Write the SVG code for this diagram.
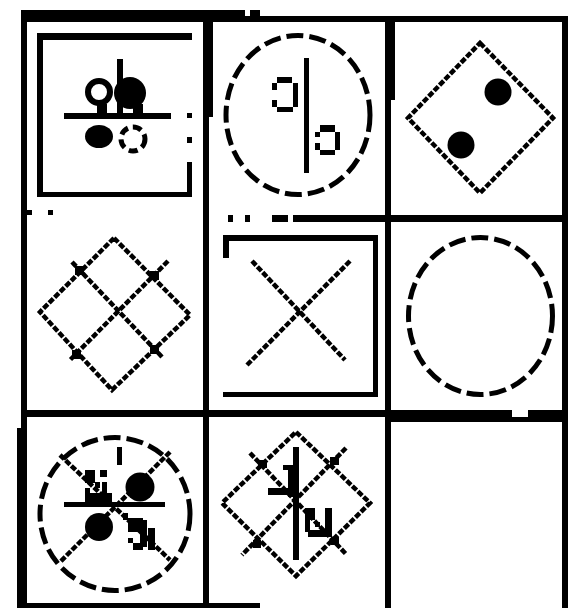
<svg xmlns="http://www.w3.org/2000/svg" width="568" height="608" viewBox="0 0 568 608">
<style>
 .k{fill:#000}
 .dia{stroke:#000;stroke-width:4.5;fill:none;stroke-dasharray:6 1.8}
 .cir{stroke:#000;stroke-width:5;fill:none;stroke-dasharray:17 6}
</style>
<rect width="568" height="608" fill="#fff"/>
<g id="grid" class="k">
 <rect x="21" y="10" width="224" height="12"/>
 <rect x="245" y="16" width="323" height="6"/>
 <rect x="250" y="10" width="10" height="6"/>
 <rect x="21" y="10" width="6" height="598"/>
 <rect x="17" y="428" width="10" height="180"/>
 <rect x="17" y="603" width="243" height="5"/>
 <rect x="562" y="16" width="6" height="592"/>
 <rect x="203" y="17" width="6" height="591"/>
 <rect x="203" y="17" width="10" height="100"/>
 <rect x="385" y="17" width="6" height="591"/>
 <rect x="385" y="17" width="10" height="83"/>
 <rect x="293" y="215" width="275" height="7"/>
 <rect x="272" y="215" width="16" height="7"/>
 <rect x="245" y="215" width="5" height="7"/>
 <rect x="228" y="215" width="5" height="7"/>
 <rect x="27" y="210" width="5" height="5"/>
 <rect x="48" y="210" width="5" height="5"/>
 <rect x="21" y="410" width="491" height="7"/>
 <rect x="528" y="410" width="40" height="7"/>
 <rect x="385" y="417" width="183" height="5"/>
</g>
<g id="cell1">
 <g class="k">
  <rect x="37" y="33" width="155" height="7"/>
  <rect x="37" y="33" width="6" height="164"/>
  <rect x="37" y="192" width="155" height="5"/>
  <rect x="187" y="162" width="5" height="35"/>
  <rect x="187" y="113" width="5" height="5"/>
  <rect x="187" y="137" width="5" height="6"/>
  <rect x="117" y="59" width="6" height="56"/>
  <rect x="64" y="113" width="107" height="6"/>
  <circle cx="130" cy="93" r="16"/>
  <rect x="97" y="104" width="10" height="10"/>
  <rect x="133" y="104" width="10" height="10"/>
  <ellipse cx="99" cy="136.5" rx="14" ry="11.5"/>
 </g>
 <circle cx="99" cy="92" r="11" fill="none" stroke="#000" stroke-width="6"/>
 <circle cx="133" cy="139" r="12" fill="none" stroke="#000" stroke-width="5" stroke-dasharray="9 5"/>
</g>
<g id="cell2">
 <ellipse class="cir" cx="298" cy="115" rx="72" ry="79.5"/>
 <g class="k">
  <rect x="304" y="58" width="5" height="115"/>
  <rect x="277" y="77" width="15" height="6"/>
  <rect x="293" y="83" width="5" height="24"/>
  <rect x="277" y="107" width="16" height="5"/>
  <rect x="272" y="83" width="5" height="7"/>
  <rect x="272" y="100" width="5" height="7"/>
  <rect x="320" y="125" width="15" height="7"/>
  <rect x="335" y="132" width="5" height="18"/>
  <rect x="320" y="150" width="15" height="5"/>
  <rect x="315" y="132" width="5" height="5"/>
  <rect x="315" y="143" width="5" height="7"/>
 </g>
</g>
<g id="cell3">
 <polygon class="dia" points="480,43 553,118 480,193 408,118"/>
 <circle class="k" cx="498" cy="92" r="13.5"/>
 <circle class="k" cx="461" cy="145" r="13.5"/>
</g>
<g id="cell4">
 <polygon class="dia" points="114,238 190,315 112,390 40,312"/>
 <line class="dia" x1="72" y1="262" x2="163" y2="358"/>
 <line class="dia" x1="168" y1="261" x2="70" y2="360"/>
 <g class="k">
  <rect x="75" y="266" width="9" height="9"/>
  <rect x="150" y="271" width="9" height="9"/>
  <rect x="72" y="350" width="9" height="9"/>
  <rect x="150" y="345" width="9" height="9"/>
 </g>
</g>
<g id="cell5">
 <g class="k">
  <rect x="223" y="235" width="155" height="6"/>
  <rect x="223" y="235" width="6" height="23"/>
  <rect x="373" y="235" width="5" height="162"/>
  <rect x="223" y="392" width="155" height="5"/>
 </g>
 <line class="dia" x1="252" y1="261" x2="345" y2="360"/>
 <line class="dia" x1="350" y1="261" x2="247" y2="365"/>
</g>
<g id="cell6">
 <ellipse class="cir" cx="480.5" cy="316" rx="72" ry="78.5"/>
</g>
<g id="cell7">
 <ellipse class="cir" cx="115" cy="514" rx="75" ry="76.5"/>
 <line class="dia" x1="60" y1="455" x2="170" y2="560"/>
 <line class="dia" x1="170" y1="452" x2="60" y2="562"/>
 <g class="k">
  <rect x="64" y="502" width="101" height="5"/>
  <rect x="117" y="447" width="5" height="18"/>
  <circle cx="140" cy="487" r="14.5"/>
  <circle cx="99" cy="527" r="14"/>
  <rect x="85" y="470" width="10" height="13"/>
  <rect x="100" y="470" width="7" height="7"/>
  <rect x="95" y="482" width="5" height="6"/>
  <rect x="102" y="482" width="5" height="14"/>
  <rect x="85" y="488" width="5" height="15"/>
  <rect x="88" y="493" width="24" height="10"/>
  <rect x="123" y="513" width="5" height="7"/>
  <rect x="128" y="518" width="15" height="14"/>
  <rect x="140" y="520" width="7" height="27"/>
  <rect x="148" y="528" width="7" height="22"/>
  <rect x="128" y="538" width="5" height="5"/>
  <rect x="133" y="543" width="10" height="7"/>
 </g>
</g>
<g id="cell8">
 <polygon class="dia" points="296,432 370,503 296,576 222,503"/>
 <line class="dia" x1="250" y1="453" x2="346" y2="554"/>
 <line class="dia" x1="346" y1="448" x2="242" y2="555"/>
 <g class="k">
  <rect x="293" y="447" width="6" height="113"/>
  <rect x="283" y="465" width="5" height="5"/>
  <rect x="288" y="465" width="5" height="32"/>
  <rect x="268" y="488" width="25" height="7"/>
  <rect x="305" y="508" width="5" height="24"/>
  <rect x="310" y="508" width="5" height="12"/>
  <rect x="315" y="522" width="5" height="5"/>
  <rect x="325" y="508" width="7" height="29"/>
  <rect x="308" y="530" width="24" height="7"/>
  <rect x="258" y="460" width="9" height="8"/>
  <rect x="330" y="457" width="9" height="8"/>
  <rect x="253" y="540" width="8" height="8"/>
  <rect x="331" y="537" width="8" height="8"/>
 </g>
</g>
<g id="cell9"></g>
</svg>
